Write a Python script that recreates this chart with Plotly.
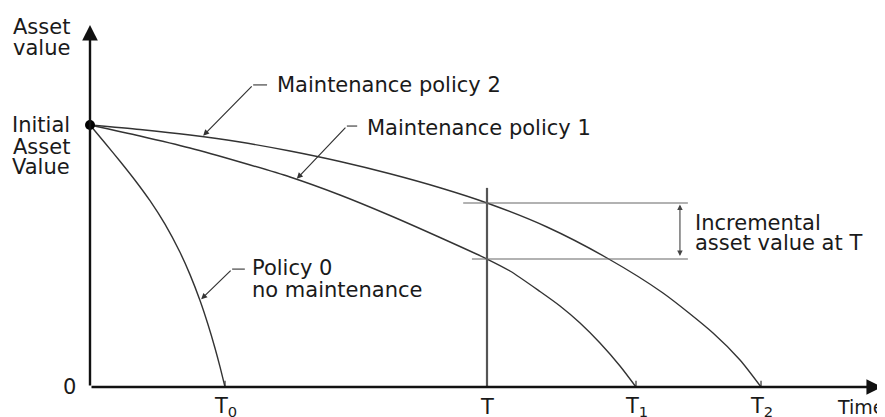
import plotly.graph_objects as go

# Units: time with T = 10, asset value with initial value = 100
policy0_t = [0, 0.378, 0.756, 1.134, 1.511, 1.889, 2.267, 2.519, 2.771, 2.972, 3.149, 3.275, 3.401]
policy0_v = [100, 93.13, 86.18, 78.93, 71.11, 62.14, 51.41, 42.90, 33.02, 23.85, 14.81, 7.71, 0]

policy1_t = [0, 1.259, 2.519, 3.778, 5.038, 6.297, 7.557, 8.816, 10.0, 10.579, 11.335,
             11.839, 12.343, 12.846, 13.350, 13.753]
policy1_v = [100, 95.80, 91.22, 85.88, 80.15, 73.28, 65.46, 57.06, 48.85, 44.27, 36.45,
             30.92, 24.43, 16.79, 8.02, 0]

policy2_t = [0, 1.259, 2.519, 3.778, 5.038, 6.297, 7.557, 8.816, 10.0, 11.511, 13.023,
             14.433, 15.693, 16.373, 16.902]
policy2_v = [100, 98.28, 96.18, 93.51, 90.08, 86.07, 81.39, 76.05, 70.23, 61.07, 49.24,
             35.88, 20.61, 10.31, 0]

milestone_labels = ["T<sub>0</sub>", "T", "T<sub>1</sub>", "T<sub>2</sub>"]
milestone_times = [3.401, 10, 13.753, 16.902]
initial_value = 100
T_eval = 10

FONT = dict(family="DejaVu Sans", size=21, color="#1a1a1a")
CURVE = "#333"

fig = go.Figure()
for t, v in [(policy0_t, policy0_v), (policy1_t, policy1_v), (policy2_t, policy2_v)]:
    fig.add_trace(go.Scatter(x=t, y=v, mode="lines",
                             line=dict(color=CURVE, width=1.4, shape="spline", smoothing=0.7),
                             hoverinfo="skip", showlegend=False))

# initial value dot
fig.add_trace(go.Scatter(x=[0], y=[initial_value], mode="markers",
                         marker=dict(color="black", size=10), showlegend=False))

v1_T = policy1_v[policy1_t.index(T_eval)]
v2_T = policy2_v[policy2_t.index(T_eval)]

shapes = []
# vertical line at T
shapes.append(dict(type="line", x0=T_eval, x1=T_eval, y0=0, y1=76,
                   line=dict(color="#555", width=2.2)))
# horizontal lines at T values
shapes.append(dict(type="line", x0=9.40, x1=15.06, y0=v2_T, y1=v2_T, line=dict(color="#666", width=1.1)))
shapes.append(dict(type="line", x0=9.62, x1=15.06, y0=v1_T, y1=v1_T, line=dict(color="#666", width=1.1)))
# ticks at end times
for t in milestone_times:
    if t != T_eval:
        shapes.append(dict(type="line", x0=t, x1=t, y0=0, y1=2.4, line=dict(color="#333", width=1.2)))
# leader horizontal parts
shapes.append(dict(type="line", x0=4.46, x1=4.11, y0=115.3, y1=115.3, line=dict(color="#444", width=1.2)))
shapes.append(dict(type="line", x0=6.73, x1=6.47, y0=99.6, y1=99.6, line=dict(color="#444", width=1.2)))
shapes.append(dict(type="line", x0=3.90, x1=3.58, y0=45.0, y1=45.0, line=dict(color="#444", width=1.2)))

ann = []
def arrow(x, y, ax, ay, width=1.2, size=1.0, color="#333", side="end"):
    ann.append(dict(x=x, y=y, ax=ax, ay=ay, xref="x", yref="y", axref="x", ayref="y",
                    text="", showarrow=True, arrowhead=2, arrowsize=size, arrowwidth=width,
                    arrowcolor=color, arrowside=side, standoff=0, startstandoff=0))

# axes
arrow(0, 138.2, 0, 0, width=2.4, size=1.3, color="#111")
arrow(19.95, 0, 0, 0, width=2.4, size=1.3, color="#111")
# leaders
arrow(2.85, 95.9, 4.11, 115.3)
arrow(5.21, 79.5, 6.47, 99.6)
arrow(2.80, 33.5, 3.58, 45.0)
# incremental double arrow
arrow(14.86, v2_T - 0.6, 14.86, v1_T + 0.6, width=1.1, size=1.0, color="#444", side="end+start")

def text(x, y, s, anchor="left", size=21):
    ann.append(dict(x=x, y=y, xref="x", yref="y", text=s, showarrow=False,
                    xanchor=anchor, yanchor="middle", font=dict(FONT, size=size)))

text(-0.45, 137.4, "Asset", "right")
text(-0.45, 129.4, "value", "right")
text(-0.45, 100, "Initial", "right")
text(-0.45, 91.6, "Asset", "right")
text(-0.45, 84.0, "Value", "right")
text(-0.30, 0, "0", "right")
for lab, t in zip(milestone_labels, milestone_times):
    text(t, -7.6, lab, "center")
text(18.77, -7.6, "Time", size=19)
text(4.66, 115.3, "Maintenance policy 2")
text(6.93, 98.9, "Maintenance policy 1")
text(4.03, 45.4, "Policy 0")
text(4.03, 37.0, "no maintenance")
text(15.19, 62.6, "Incremental")
text(15.19, 55.0, "asset value at T")

fig.update_layout(
    width=877, height=409, margin=dict(l=0, r=0, t=0, b=0),
    paper_bgcolor="white", plot_bgcolor="white",
    xaxis=dict(range=[-2.0655, 20.025], visible=False),
    yaxis=dict(range=[-11.45, 144.66], visible=False),
    shapes=shapes, annotations=ann, showlegend=False,
)
fig.write_html("out.html")
